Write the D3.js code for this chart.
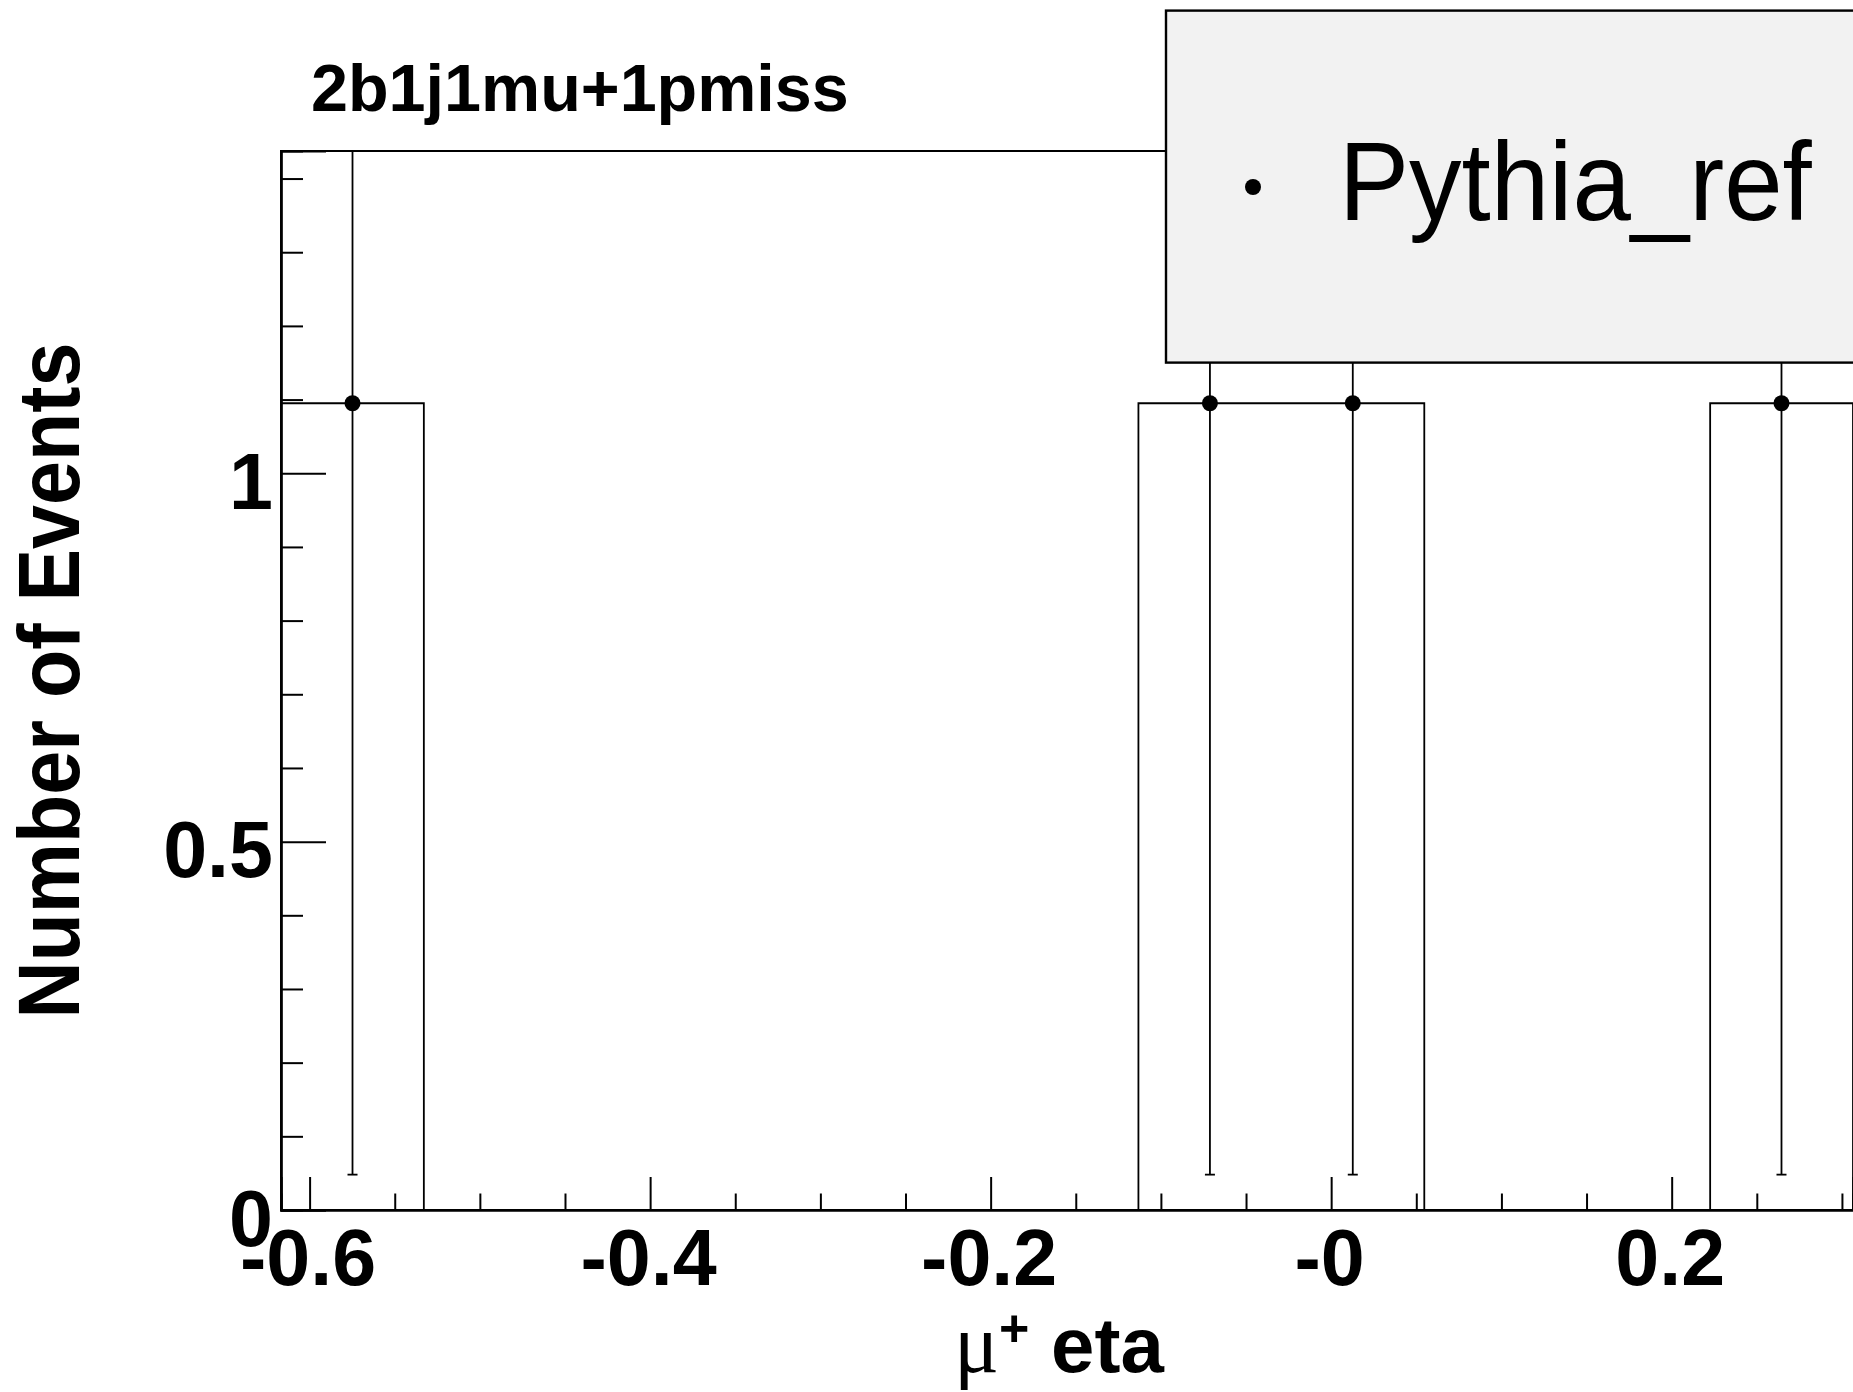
<!DOCTYPE html>
<html>
<head>
<meta charset="utf-8">
<script src="https://cdn.jsdelivr.net/npm/d3@7"></script>
<style>
  html, body { margin: 0; padding: 0; background: #ffffff; }
  svg { display: block; }
</style>
</head>
<body>
<svg id="chart" width="1853" height="1392"></svg>
<script>
// ---------------- data ----------------
const chartTitle = "2b1j1mu+1pmiss";
const legendLabel = "Pythia_ref";
const yTitle = "Number of Events";

// histogram bins (mu+ eta)
const binLowEdges = [-0.6168, -0.5329, -0.4490, -0.3650, -0.2811, -0.1971, -0.1132, -0.0293, 0.0547, 0.1386, 0.2226];
const binWidth = 0.0839;
const binCenters = [-0.5748, -0.4909, -0.4070, -0.3230, -0.2391, -0.1551, -0.0712, 0.0127, 0.0967, 0.1806, 0.2645];
const counts =     [1.095, 0, 0, 0, 0, 0, 1.095, 1.095, 0, 0, 1.095];
const errors =     [1.047, 0, 0, 0, 0, 0, 1.047, 1.047, 0, 0, 1.047];

// axes
const xDomain = [-0.6168, 0.3065];
const yDomain = [0, 1.4374];
const xMajorTicks = [-0.6, -0.4, -0.2, 0, 0.2];
const xMajorLabels = ["-0.6", "-0.4", "-0.2", "-0", "0.2"];
const xMinorTicks = [-0.55, -0.5, -0.45, -0.35, -0.3, -0.25, -0.15, -0.1, -0.05, 0.05, 0.1, 0.15, 0.25, 0.3];
const yMajorTicks = [0, 0.5, 1];
const yMajorLabels = ["0", "0.5", "1"];
const yMinorTicks = [0.1, 0.2, 0.3, 0.4, 0.6, 0.7, 0.8, 0.9, 1.1, 1.2, 1.3, 1.4];

// ---------------- layout ----------------
const frame = { left: 281, top: 151, right: 1853, bottom: 1210 };
const svg = d3.select("#chart");
const sans = "'Liberation Sans', Arial, Helvetica, sans-serif";

const x = d3.scaleLinear().domain(xDomain).range([frame.left, frame.right]);
const y = d3.scaleLinear().domain(yDomain).range([frame.bottom, frame.top]);

svg.append("defs").append("clipPath").attr("id", "frameClip")
  .append("rect")
  .attr("x", frame.left).attr("y", frame.top)
  .attr("width", frame.right - frame.left + 50).attr("height", frame.bottom - frame.top);

// frame
svg.append("rect")
  .attr("x", frame.left).attr("y", frame.top)
  .attr("width", frame.right - frame.left + 10).attr("height", frame.bottom - frame.top)
  .attr("fill", "none").attr("stroke", "#000").attr("stroke-width", 2);

// ---- x axis ----
const xAxisMinor = d3.axisBottom(x).tickValues(xMinorTicks).tickSize(-16.5).tickFormat("");
const xAxisMajor = d3.axisBottom(x).tickValues(xMajorTicks).tickSize(-33)
  .tickFormat((d, i) => xMajorLabels[i]);

const gxMin = svg.append("g").attr("transform", `translate(0,${frame.bottom})`).call(xAxisMinor);
const gxMaj = svg.append("g").attr("transform", `translate(0,${frame.bottom})`).call(xAxisMajor);
[gxMin, gxMaj].forEach(g => {
  g.select(".domain").attr("stroke", "#000").attr("stroke-width", 2.2);
  g.selectAll(".tick line").attr("stroke", "#000").attr("stroke-width", 2);
});
gxMaj.selectAll(".tick text")
  .attr("x", -2)
  .attr("y", 75).attr("dy", null)
  .attr("font-family", sans).attr("font-weight", "bold").attr("font-size", 79)
  .attr("fill", "#000");

// ---- y axis ----
const yAxisMinor = d3.axisLeft(y).tickValues(yMinorTicks).tickSize(-22).tickFormat("");
const yAxisMajor = d3.axisLeft(y).tickValues(yMajorTicks).tickSize(-45)
  .tickFormat((d, i) => yMajorLabels[i]);
const gyMin = svg.append("g").attr("transform", `translate(${frame.left},0)`).call(yAxisMinor);
const gyMaj = svg.append("g").attr("transform", `translate(${frame.left},0)`).call(yAxisMajor);
[gyMin, gyMaj].forEach(g => {
  g.select(".domain").attr("stroke", "#000").attr("stroke-width", 2.2);
  g.selectAll(".tick line").attr("stroke", "#000").attr("stroke-width", 2);
});
gyMaj.selectAll(".tick text")
  .attr("x", -8).attr("dy", 35).attr("text-anchor", "end")
  .attr("font-family", sans).attr("font-weight", "bold").attr("font-size", 79)
  .attr("fill", "#000");

// ---- histogram outline ----
const stepPts = [[binLowEdges[0], 0]];
binLowEdges.forEach((e, i) => stepPts.push([e, counts[i]]));
stepPts.push([binLowEdges[binLowEdges.length - 1] + binWidth, counts[counts.length - 1]]);
stepPts.push([binLowEdges[binLowEdges.length - 1] + binWidth, 0]);
const stepLine = d3.line().x(d => x(d[0])).y(d => y(d[1])).curve(d3.curveStepAfter);

const plot = svg.append("g").attr("clip-path", "url(#frameClip)");
plot.append("path")
  .attr("d", stepLine(stepPts))
  .attr("fill", "none").attr("stroke", "#000").attr("stroke-width", 1.8);

// ---- error bars and markers ----
const pts = binCenters.map((c, i) => ({ c, v: counts[i], e: errors[i] })).filter(d => d.v > 0);
plot.selectAll("line.err").data(pts).enter().append("line")
  .attr("class", "err")
  .attr("x1", d => x(d.c)).attr("x2", d => x(d.c))
  .attr("y1", d => y(d.v - d.e)).attr("y2", d => y(d.v + d.e))
  .attr("stroke", "#000").attr("stroke-width", 1.8);
plot.selectAll("line.cap").data(pts).enter().append("line")
  .attr("class", "cap")
  .attr("x1", d => x(d.c) - 5).attr("x2", d => x(d.c) + 5)
  .attr("y1", d => y(d.v - d.e)).attr("y2", d => y(d.v - d.e))
  .attr("stroke", "#000").attr("stroke-width", 1.8);
plot.selectAll("circle.pt").data(pts).enter().append("circle")
  .attr("class", "pt")
  .attr("cx", d => x(d.c)).attr("cy", d => y(d.v)).attr("r", 8)
  .attr("fill", "#000");

// ---- titles ----
svg.append("text")
  .attr("x", 311).attr("y", 111)
  .attr("font-family", sans).attr("font-weight", "bold").attr("font-size", 66.5)
  .attr("fill", "#000")
  .text(chartTitle);

svg.append("text")
  .attr("transform", `translate(79,${(frame.top + frame.bottom) / 2}) rotate(-90) scale(1,1.1)`)
  .attr("text-anchor", "middle")
  .attr("font-family", sans).attr("font-weight", "bold").attr("font-size", 79)
  .attr("fill", "#000")
  .text(yTitle);

const xt = svg.append("text")
  .attr("x", 954).attr("y", 1372)
  .attr("fill", "#000");
xt.append("tspan")
  .attr("font-family", "'Liberation Serif', 'DejaVu Serif', serif")
  .attr("font-size", 84)
  .text("\u03bc");
xt.append("tspan")
  .attr("dy", -26)
  .attr("font-family", sans).attr("font-weight", "bold").attr("font-size", 52)
  .text("+");
xt.append("tspan")
  .attr("dy", 26)
  .attr("font-family", sans).attr("font-weight", "bold").attr("font-size", 78)
  .text(" eta");

// ---- legend ----
const lg = svg.append("g");
lg.append("rect")
  .attr("x", 1166).attr("y", 10.6)
  .attr("width", 800).attr("height", 352)
  .attr("fill", "#f2f2f2").attr("stroke", "#000").attr("stroke-width", 2.4);
lg.append("circle")
  .attr("cx", 1253).attr("cy", 187).attr("r", 8).attr("fill", "#000");
lg.append("text")
  .attr("transform", "translate(1339,220) scale(1,1.06)")
  .attr("font-family", sans).attr("font-size", 105)
  .attr("fill", "#000")
  .text(legendLabel);
</script>
</body>
</html>
